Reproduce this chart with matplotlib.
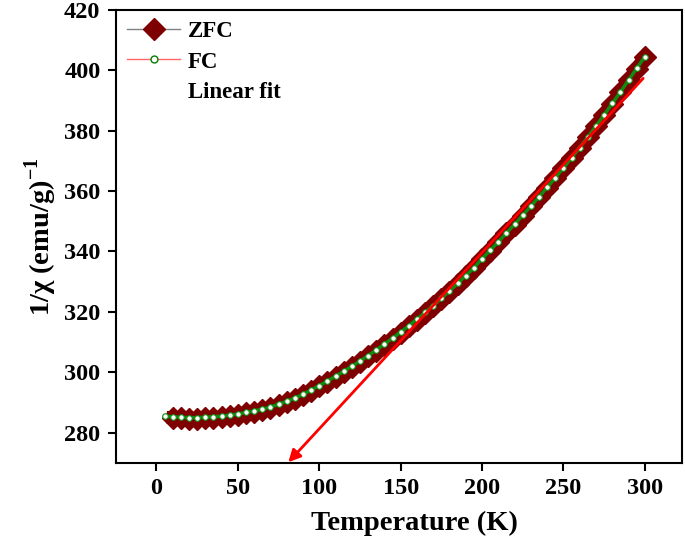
import matplotlib
matplotlib.use('Agg')
import matplotlib.pyplot as plt
from matplotlib.lines import Line2D

plt.rcParams['font.family'] = 'Liberation Serif'
plt.rcParams['font.weight'] = 'bold'
plt.rcParams['mathtext.fontset'] = 'custom'
plt.rcParams['mathtext.rm'] = 'Liberation Serif:bold'
plt.rcParams['mathtext.bf'] = 'Liberation Serif:bold'

# ZFC data (T in K, 1/chi)
zfc_T = [10, 15, 20, 25, 30, 35, 40, 45, 50, 55, 60, 65, 70, 75, 80, 85, 90, 95,
         100, 105, 110, 115, 120, 125, 130, 135, 140, 145, 150, 155, 160, 165,
         170, 175, 180, 185, 190, 195, 200, 205, 210, 215, 220, 225, 230, 235,
         240, 245, 250, 255, 260, 265, 270, 275, 280, 285, 290, 295, 300]
zfc_inv = [285.0, 284.8, 284.7, 284.7, 284.8, 285.0, 285.2, 285.5, 285.9, 286.4,
           286.9, 287.5, 288.3, 289.2, 290.2, 291.3, 292.5, 293.9, 295.4, 296.9,
           298.5, 300.1, 301.8, 303.5, 305.3, 307.2, 309.1, 311.1, 313.1, 315.2,
           317.4, 319.6, 321.9, 324.3, 326.7, 329.2, 331.8, 334.4, 337.5, 340.3,
           343.1, 346.0, 348.9, 351.9, 354.9, 358.0, 361.1, 364.3, 367.6, 370.9,
           374.3, 377.8, 381.4, 385.1, 388.9, 392.7, 396.6, 400.5, 404.5]

# FC data
fc_T = [5, 10, 15, 20, 25, 30, 35, 40, 45, 50, 55, 60, 65, 70, 75, 80, 85, 90, 95,
        100, 105, 110, 115, 120, 125, 130, 135, 140, 145, 150, 155, 160, 165,
        170, 175, 180, 185, 190, 195, 200, 205, 210, 215, 220, 225, 230, 235,
        240, 245, 250, 255, 260, 265, 270, 275, 280, 285, 290, 295, 300]
fc_inv = [285.4, 285.3, 285.1, 285.0, 285.0, 285.1, 285.3, 285.5, 285.8, 286.2,
          286.7, 287.2, 287.8, 288.5, 289.4, 290.4, 291.5, 292.7, 294.1, 295.6,
          297.1, 298.7, 300.3, 302.0, 303.7, 305.5, 307.4, 309.3, 311.3, 313.3,
          315.4, 317.6, 319.8, 322.1, 324.5, 326.9, 329.4, 332.0, 334.6, 337.6,
          340.4, 343.2, 346.1, 349.0, 352.0, 355.0, 358.1, 361.2, 364.4, 367.7,
          371.0, 374.4, 377.9, 381.5, 385.2, 389.0, 392.8, 396.7, 400.6, 404.5]

# linear fit of 1/chi
fit_slope = 0.583
fit_intercept = 223.0
fit_T = [81, 299]

fig = plt.figure(figsize=(6.85, 5.44), dpi=100)
ax = fig.add_axes([0.169, 0.149, 0.827, 0.833])

ax.plot(zfc_T, zfc_inv, '-D', color='#7f0000', lw=9, markersize=11, zorder=2)
ax.plot(fc_T, fc_inv, '-o', color='#118a11', lw=2.5, markersize=4,
        markerfacecolor='white', markeredgecolor='#118a11', markeredgewidth=0.8, zorder=3)

fit_y = [fit_slope * t + fit_intercept for t in fit_T]
ax.annotate('', xy=(fit_T[0], fit_y[0]), xytext=(fit_T[1], fit_y[1]),
            arrowprops=dict(arrowstyle='-|>', color='red', lw=2,
                            mutation_scale=18, shrinkA=0, shrinkB=0), zorder=4)

ax.set_xlim(-25, 323)
ax.set_ylim(270, 420)
ax.set_xticks(range(0, 301, 50))
ax.set_yticks(range(280, 421, 20))
ax.tick_params(direction='out', length=6, width=1.5, labelsize=17.5, pad=5)
for s in ax.spines.values():
    s.set_linewidth(1.5)

ax.set_xlabel('Temperature (K)', fontsize=20.5, fontweight='bold')
ax.xaxis.set_label_coords(0.528, -0.105)
ax.set_ylabel(r'1/χ (emu/g)$^{-1}$', fontsize=20.5, fontweight='bold', labelpad=4)

handles = [
    Line2D([], [], color='gray', lw=1, marker='D', markersize=11,
           markerfacecolor='#7f0000', markeredgecolor='#7f0000'),
    Line2D([], [], color='#ff6666', lw=1, marker='o', markersize=5,
           markerfacecolor='white', markeredgecolor='green'),
    Line2D([], [], color='none'),
]
ax.legend(handles, ['ZFC', 'FC', 'Linear fit'], loc='upper left',
          frameon=False, prop={'size': 16.5, 'weight': 'bold'},
          handlelength=2.3, handletextpad=0.35, borderaxespad=0.1,
          labelspacing=0.4)

fig.savefig('out.png', dpi=100)
